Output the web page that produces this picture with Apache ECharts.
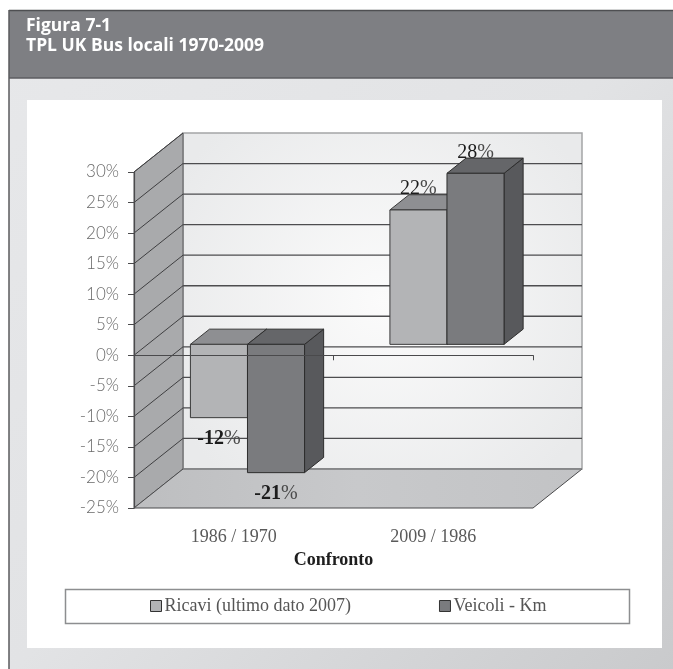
<!DOCTYPE html>
<html>
<head>
<meta charset="utf-8">
<script src="https://cdn.jsdelivr.net/npm/echarts@6/dist/echarts.min.js"></script>
<style>
  html, body { margin: 0; padding: 0; background: #ffffff; }
  #chart { width: 673px; height: 669px; }
</style>
</head>
<body>
<div id="chart"></div>
<script>
// Data
const categories = ['1986 / 1970', '2009 / 1986'];
const ricavi = [-12, 22];
const veicoliKm = [-21, 28];
const seriesNames = ['Ricavi (ultimo dato 2007)', 'Veicoli - Km'];
const yMin = -25;
const yMax = 30;
const yStep = 5;

// Oblique projection of the 3D box (pixel offset of the back plane)
const DEPTH_X = 49;
const DEPTH_Y = -39;
// Bars sit between these depth fractions of the box
const BAR_FRONT = 0.28;
const BAR_BACK = 0.67;
const BAR_FRACTION = 0.286;

const faceStyles = [
  { front: '#b3b4b6', top: '#8e8f92', side: '#8a8b8e', stroke: '#3a3a3a' },
  { front: '#7a7b7e', top: '#656669', side: '#58595c', stroke: '#2e2e2e' }
];

const chart = echarts.init(document.getElementById('chart'), null, { renderer: 'canvas' });

function renderWalls(params, api) {
  const cs = params.coordSys;
  const x0 = cs.x, x1 = cs.x + cs.width;
  const yT = cs.y, yB = cs.y + cs.height;
  const dx = DEPTH_X, dy = DEPTH_Y;
  const children = [];
  // back wall
  children.push({
    type: 'rect',
    shape: { x: x0 + dx, y: yT + dy, width: x1 - x0, height: yB - yT },
    style: {
      fill: new echarts.graphic.RadialGradient(0.5, 0.5, 0.7, [
        { offset: 0, color: '#fbfbfb' },
        { offset: 1, color: '#e9eaeb' }
      ]),
      stroke: '#a4a5a7', lineWidth: 1.5
    }
  });
  // left side wall
  children.push({
    type: 'polygon',
    shape: { points: [[x0, yT], [x0 + dx, yT + dy], [x0 + dx, yB + dy], [x0, yB]] },
    style: { fill: '#a9aaac', stroke: '#5a5a5c', lineWidth: 1 }
  });
  // floor
  children.push({
    type: 'polygon',
    shape: { points: [[x0, yB], [x1, yB], [x1 + dx, yB + dy], [x0 + dx, yB + dy]] },
    style: {
      fill: new echarts.graphic.LinearGradient(0, 0, 1, 0, [
        { offset: 0, color: '#bdbec0' },
        { offset: 0.5, color: '#c8c9cb' },
        { offset: 1, color: '#c2c3c5' }
      ]),
      stroke: '#4a4a4c', lineWidth: 1
    }
  });
  // gridlines on back and side wall
  for (let v = yMin; v <= yMax; v += yStep) {
    const y = api.coord([0, v])[1];
    if (v > yMin && v < yMax) {
      children.push({
        type: 'line',
        shape: { x1: x0 + dx, y1: y + dy, x2: x1 + dx, y2: y + dy },
        style: { stroke: '#4d4d4f', lineWidth: 1.3 }
      });
    }
    if (v > yMin) {
      children.push({
        type: 'line',
        shape: { x1: x0, y1: y, x2: x0 + dx, y2: y + dy },
        style: { stroke: '#3f3f41', lineWidth: 1 }
      });
    }
  }
  // back floor edge
  children.push({
    type: 'line',
    shape: { x1: x0 + dx, y1: yB + dy, x2: x1 + dx, y2: yB + dy },
    style: { stroke: '#8e8f91', lineWidth: 1.2 }
  });
  return { type: 'group', children: children };
}

function makeBarRenderer(slot) {
  return function (params, api) {
    const cat = api.value(0);
    const val = api.value(1);
    const c = api.coord([cat, val]);
    const z = api.coord([cat, 0]);
    const band = api.size([1, 0])[0];
    const w = band * BAR_FRACTION;
    const xl = z[0] - w + slot * w;
    const fx = DEPTH_X * BAR_FRONT, fy = DEPTH_Y * BAR_FRONT;
    const bx = DEPTH_X * BAR_BACK, by = DEPTH_Y * BAR_BACK;
    const yTop = Math.min(c[1], z[1]);
    const yBot = Math.max(c[1], z[1]);
    const st = faceStyles[slot];
    const lw = 1;
    const children = [
      { // side
        type: 'polygon',
        shape: { points: [[xl + w + fx, yTop + fy], [xl + w + bx, yTop + by], [xl + w + bx, yBot + by], [xl + w + fx, yBot + fy]] },
        style: { fill: st.side, stroke: st.stroke, lineWidth: lw }
      },
      { // top
        type: 'polygon',
        shape: { points: [[xl + fx, yTop + fy], [xl + w + fx, yTop + fy], [xl + w + bx, yTop + by], [xl + bx, yTop + by]] },
        style: { fill: st.top, stroke: st.stroke, lineWidth: lw }
      },
      { // front
        type: 'rect',
        shape: { x: xl + fx, y: yTop + fy, width: w, height: yBot - yTop },
        style: { fill: st.front, stroke: st.stroke, lineWidth: lw }
      }
    ];
    const neg = val < 0;
    const labelY = (neg ? yBot + fy + 21 : yTop + fy - 21);
    children.push({
      type: 'text',
      z2: 50,
      style: {
        x: xl + fx + w / 2,
        y: labelY,
        text: '{n|' + val + '}{p|%}',
        align: 'center',
        verticalAlign: 'middle',
        rich: {
          n: { fontFamily: 'Liberation Serif', fontSize: 20, fill: '#1c1c1c', fontWeight: neg ? 'bold' : 'normal' },
          p: { fontFamily: 'Liberation Serif', fontSize: 20, fill: '#4a4a4a' }
        }
      }
    });
    return { type: 'group', children: children };
  };
}

const option = {
  animation: false,
  backgroundColor: '#ffffff',
  graphic: [
    { type: 'rect', z: -10, shape: { x: 9, y: 10, width: 664, height: 659 },
      style: { fill: new echarts.graphic.LinearGradient(0, 0, 1, 1, [
        { offset: 0, color: '#e7e8ea' }, { offset: 0.5, color: '#e2e3e5' }, { offset: 1, color: '#c9cacc' }]) } },
    { type: 'rect', z: -9, shape: { x: 9, y: 10, width: 664, height: 68 },
      style: { fill: '#7e7f83' } },
    { type: 'line', z: -8, shape: { x1: 9, y1: 10.5, x2: 673, y2: 10.5 }, style: { stroke: '#4e4f52', lineWidth: 1.5 } },
    { type: 'line', z: -8, shape: { x1: 9, y1: 78, x2: 673, y2: 78 }, style: { stroke: '#5c5d60', lineWidth: 1.5 } },
    { type: 'line', z: -8, shape: { x1: 9, y1: 10, x2: 9, y2: 669 }, style: { stroke: '#5a5a5c', lineWidth: 1.5 } },
    { type: 'rect', z: -8, shape: { x: 27, y: 100, width: 635, height: 548 }, style: { fill: '#ffffff' } },
    { type: 'text', z: 1, style: { x: 26, y: 17, text: 'Figura 7-1', fill: '#ffffff',
      fontFamily: 'Open Sans', fontWeight: 'bold', fontSize: 17.5 } },
    { type: 'text', z: 1, style: { x: 26, y: 37, text: 'TPL UK Bus locali 1970-2009', fill: '#ffffff',
      fontFamily: 'Open Sans', fontWeight: 'bold', fontSize: 17.5 } },
    { type: 'rect', z: -7, shape: { x: 65.5, y: 589.5, width: 564, height: 34 },
      style: { fill: '#ffffff', stroke: '#8d8e90', lineWidth: 1.5 } }
  ],
  legend: {
    data: seriesNames,
    left: 150,
    top: 597,
    padding: 0,
    icon: 'rect',
    itemWidth: 11,
    itemHeight: 11,
    itemGap: 88,
    itemStyle: { borderColor: '#333333', borderWidth: 1 },
    textStyle: { fontFamily: 'Liberation Serif', fontSize: 18, color: '#555555', padding: [0, 0, 0, -2] }
  },
  grid: { left: 134, right: 140, top: 172, bottom: 161 },
  xAxis: [
    {
      type: 'category',
      data: categories,
      position: 'bottom',
      axisLine: { show: false, onZero: false },
      axisTick: { show: false },
      axisLabel: { margin: 20, fontFamily: 'Liberation Serif', fontSize: 18, color: '#5a5a5a' },
      name: 'Confronto',
      nameLocation: 'middle',
      nameGap: 43,
      nameTextStyle: { fontFamily: 'Liberation Serif', fontSize: 18, fontWeight: 'bold', color: '#1e1e1e' }
    },
    {
      type: 'category',
      data: categories,
      position: 'bottom',
      z: 6,
      axisLine: { show: true, onZero: true, lineStyle: { color: '#4a4a4c', width: 1 } },
      axisTick: { show: true, length: 5, lineStyle: { color: '#4a4a4c' } },
      axisLabel: { show: false }
    }
  ],
  yAxis: {
    type: 'value',
    min: yMin,
    max: yMax,
    interval: yStep,
    z: 6,
    axisLine: { show: true, lineStyle: { color: '#4a4a4c', width: 1.2 } },
    axisTick: { show: true, length: 6, lineStyle: { color: '#4a4a4c' } },
    splitLine: { show: false },
    axisLabel: {
      margin: 15,
      formatter: '{value}%',
      fontFamily: 'Lato',
      fontWeight: 300,
      fontSize: 17,
      color: '#6a6a6a'
    }
  },
  series: [
    {
      type: 'custom',
      name: 'walls',
      silent: true,
      z: 1,
      xAxisIndex: 0,
      renderItem: renderWalls,
      data: [[0, 0]]
    },
    {
      type: 'custom',
      name: seriesNames[0],
      z: 2,
      xAxisIndex: 0,
      itemStyle: { color: faceStyles[0].front },
      renderItem: makeBarRenderer(0),
      encode: { x: 0, y: 1 },
      data: ricavi.map((v, i) => [i, v])
    },
    {
      type: 'custom',
      name: seriesNames[1],
      z: 3,
      xAxisIndex: 0,
      itemStyle: { color: faceStyles[1].front },
      renderItem: makeBarRenderer(1),
      encode: { x: 0, y: 1 },
      data: veicoliKm.map((v, i) => [i, v])
    }
  ]
};

chart.setOption(option);
</script>
</body>
</html>
